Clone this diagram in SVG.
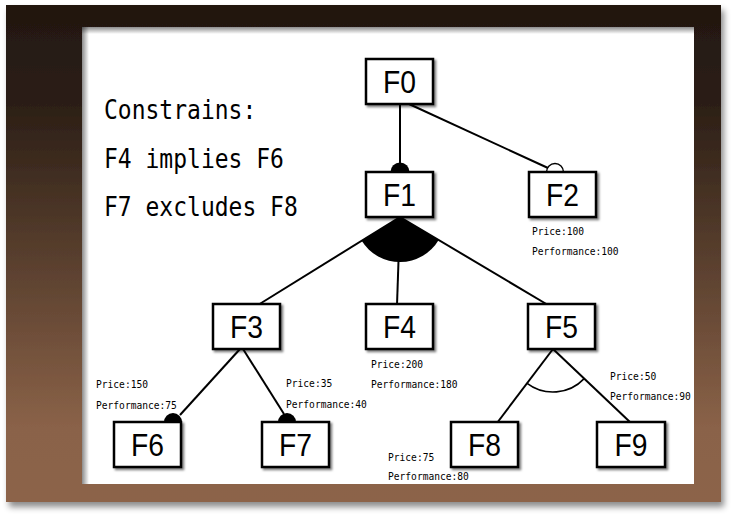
<svg xmlns="http://www.w3.org/2000/svg" width="733" height="517" viewBox="0 0 733 517">
<defs>
<linearGradient id="frameGrad" x1="0" y1="0" x2="0" y2="1">
<stop offset="0" stop-color="#221710"/>
<stop offset="0.2" stop-color="#2c1f16"/>
<stop offset="0.85" stop-color="#8a6248"/>
<stop offset="1" stop-color="#8c6449"/>
</linearGradient>
<linearGradient id="topShade" x1="0" y1="0" x2="0" y2="1">
<stop offset="0" stop-color="#000" stop-opacity="0.45"/>
<stop offset="1" stop-color="#000" stop-opacity="0"/>
</linearGradient>
<linearGradient id="leftShade" x1="0" y1="0" x2="1" y2="0">
<stop offset="0" stop-color="#000" stop-opacity="0.45"/>
<stop offset="1" stop-color="#000" stop-opacity="0"/>
</linearGradient>
<filter id="frameShadow" x="-5%" y="-5%" width="110%" height="115%">
<feDropShadow dx="3" dy="5" stdDeviation="3" flood-color="#000" flood-opacity="0.45"/>
</filter>
<filter id="boxShadow" x="-20%" y="-20%" width="150%" height="160%">
<feDropShadow dx="2" dy="2" stdDeviation="1.2" flood-color="#000" flood-opacity="0.5"/>
</filter>
</defs>
<style>
.box{fill:#fff;stroke:#000;stroke-width:2.5;filter:url(#boxShadow)}
.lbl{font-family:"Liberation Sans",Arial,sans-serif;font-size:31px;fill:#000;text-anchor:middle}
.attr{font-family:"DejaVu Sans Mono","Liberation Mono",monospace;font-size:9.6px;fill:#000}
.cons{font-family:"DejaVu Sans Mono","Liberation Mono",monospace;font-size:23px;fill:#000}
.ln{stroke:#000;stroke-width:2;fill:none}
.thin{stroke:#000;stroke-width:1.6;fill:none}
.dot{fill:#000;stroke:none}
.open{fill:#fff;stroke:#000;stroke-width:1.4}
</style>
<rect width="733" height="517" fill="#fff"/>
<g id="frame">
<rect x="6" y="5" width="715" height="497" fill="url(#frameGrad)" filter="url(#frameShadow)"/>
<rect x="82" y="27" width="612" height="457" fill="#fff"/>
<rect x="82" y="27" width="612" height="7" fill="url(#topShade)"/>
<rect x="82" y="27" width="7" height="457" fill="url(#leftShade)"/>
</g>
<g id="constraints">
<text class="cons" x="104" y="119" transform="translate(0,-14.9) scale(1,1.125)">Constrains:</text>
<text class="cons" x="104" y="168" transform="translate(0,-21) scale(1,1.125)">F4 implies F6</text>
<text class="cons" x="104" y="216" transform="translate(0,-27) scale(1,1.125)">F7 excludes F8</text>
</g>
<g id="connectors">
<line class="ln" x1="400" y1="104" x2="400" y2="163"/>
<path class="dot" d="M390.5,172 A9.5,9.5 0 0,1 409.5,172 Z"/>
<line class="ln" x1="409" y1="104" x2="548" y2="168"/>
<path class="open" d="M546.5,172 A8.5,8.5 0 0,1 563.5,172"/>
<line class="ln" x1="400" y1="217" x2="258" y2="305"/>
<line class="ln" x1="400" y1="217" x2="397" y2="305"/>
<line class="ln" x1="400" y1="217" x2="548" y2="305"/>
<path class="dot" d="M400,217 L361.7,240.7 A45,45 0 0,0 438.7,240 Z"/>
<line class="ln" x1="240" y1="349" x2="180" y2="415"/>
<path class="dot" d="M164,422 A9,9 0 0,1 182,422 Z"/>
<line class="ln" x1="243" y1="349" x2="284" y2="414"/>
<path class="dot" d="M278,422 A9,9 0 0,1 296,422 Z"/>
<line class="ln" x1="553" y1="349" x2="497" y2="423"/>
<line class="ln" x1="553" y1="349" x2="631" y2="423"/>
<path class="thin" d="M527.1,383.3 A43,43 0 0,0 584.2,378.6"/>
</g>
<g id="F0"><rect class="box" x="366" y="59" width="67" height="45"/><text class="lbl" x="399.5" y="93" textLength="33" lengthAdjust="spacingAndGlyphs">F0</text></g>
<g id="F1"><rect class="box" x="366" y="172" width="67" height="45"/><text class="lbl" x="399.5" y="206" textLength="33" lengthAdjust="spacingAndGlyphs">F1</text></g>
<g id="F2"><rect class="box" x="529" y="172" width="67" height="45"/><text class="lbl" x="562.5" y="206" textLength="33" lengthAdjust="spacingAndGlyphs">F2</text>
<text class="attr" x="532" y="235">Price:100</text><text class="attr" x="532" y="255">Performance:100</text></g>
<g id="F3"><rect class="box" x="213" y="304" width="67" height="45"/><text class="lbl" x="246.5" y="338" textLength="33" lengthAdjust="spacingAndGlyphs">F3</text></g>
<g id="F4"><rect class="box" x="366" y="304" width="67" height="45"/><text class="lbl" x="399.5" y="338" textLength="33" lengthAdjust="spacingAndGlyphs">F4</text>
<text class="attr" x="371" y="368">Price:200</text><text class="attr" x="371" y="388">Performance:180</text></g>
<g id="F5"><rect class="box" x="528" y="304" width="67" height="45"/><text class="lbl" x="561.5" y="338" textLength="33" lengthAdjust="spacingAndGlyphs">F5</text>
<text class="attr" x="610" y="380">Price:50</text><text class="attr" x="610" y="400">Performance:90</text></g>
<g id="F6"><rect class="box" x="114" y="422" width="67" height="45"/><text class="lbl" x="147.5" y="456" textLength="33" lengthAdjust="spacingAndGlyphs">F6</text>
<text class="attr" x="96" y="388">Price:150</text><text class="attr" x="96" y="409">Performance:75</text></g>
<g id="F7"><rect class="box" x="262" y="422" width="67" height="45"/><text class="lbl" x="295.5" y="456" textLength="33" lengthAdjust="spacingAndGlyphs">F7</text>
<text class="attr" x="286" y="387">Price:35</text><text class="attr" x="286" y="408">Performance:40</text></g>
<g id="F8"><rect class="box" x="451" y="422" width="67" height="45"/><text class="lbl" x="484.5" y="456" textLength="33" lengthAdjust="spacingAndGlyphs">F8</text>
<text class="attr" x="388" y="461">Price:75</text><text class="attr" x="388" y="480">Performance:80</text></g>
<g id="F9"><rect class="box" x="597" y="422" width="68" height="45"/><text class="lbl" x="631" y="456" textLength="33" lengthAdjust="spacingAndGlyphs">F9</text></g>
</svg>
